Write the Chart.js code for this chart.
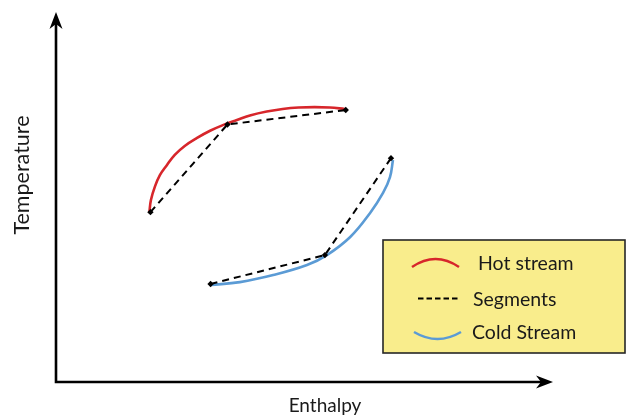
<!DOCTYPE html>
<html>
<head>
<meta charset="utf-8">
<script src="https://cdn.jsdelivr.net/npm/chart.js@4/dist/chart.umd.min.js"></script>
<style>
  html, body { margin: 0; padding: 0; background: #ffffff; }
  #wrap { width: 627px; height: 416px; }
</style>
</head>
<body>
<div id="wrap"><canvas id="c" width="627" height="416"></canvas></div>
<script>
// ---- data (arbitrary units) ----
const seriesLabels = ["Hot stream", "Segments", "Cold Stream"];
const axisTitles = { x: "Enthalpy", y: "Temperature" };

const hotEnthalpy    = [18.8, 19.1, 19.9, 20.9, 22.3, 23.9, 25.9, 28.3, 31.0, 33.7, 36.4, 39.2, 42.4, 45.6, 48.8, 52.0, 55.1, 58.1];
const hotTemperature = [46.0, 49.2, 52.8, 55.9, 58.6, 61.4, 63.8, 65.9, 67.9, 69.5, 70.8, 72.1, 73.1, 73.8, 74.2, 74.3, 74.2, 73.8];

const coldEnthalpy    = [31.1, 37.0, 43.7, 50.5, 54.5, 59.2, 63.2, 65.8, 67.2, 67.8];
const coldTemperature = [26.2, 27.0, 28.9, 31.6, 34.3, 39.2, 45.7, 51.1, 55.4, 60.0];

const hotSegEnthalpy    = [19.0, 34.5, 58.3];
const hotSegTemperature = [45.9, 69.6, 73.5];
const coldSegEnthalpy    = [31.1, 54.1, 67.4];
const coldSegTemperature = [26.5, 34.3, 60.5];

function pts(xs, ys) { return xs.map((x, i) => ({ x: x, y: ys[i] })); }

const RED = '#d7262b', BLUE = '#5b9bd5', FONT = 'Lato';

const decor = {
  id: 'decor',
  afterDraw(chart) {
    const ctx = chart.ctx, a = chart.chartArea;
    ctx.save();
    // axes with arrows
    ctx.strokeStyle = '#000'; ctx.fillStyle = '#000'; ctx.lineWidth = 2.6;
    ctx.beginPath();
    ctx.moveTo(a.left, a.top + 8); ctx.lineTo(a.left, a.bottom); ctx.lineTo(a.right - 8, a.bottom);
    ctx.stroke();
    ctx.beginPath();
    ctx.moveTo(a.left, a.top); ctx.lineTo(a.left - 6.5, a.top + 17); ctx.lineTo(a.left, a.top + 12); ctx.lineTo(a.left + 6.5, a.top + 17); ctx.closePath(); ctx.fill();
    ctx.beginPath();
    ctx.moveTo(a.right, a.bottom); ctx.lineTo(a.right - 17, a.bottom - 6.5); ctx.lineTo(a.right - 12, a.bottom); ctx.lineTo(a.right - 17, a.bottom + 6.5); ctx.closePath(); ctx.fill();

    // axis titles
    ctx.fillStyle = '#1a1a1a';
    ctx.textAlign = 'center'; ctx.textBaseline = 'middle';
    ctx.font = '19px ' + FONT;
    ctx.fillText(chart.options.scales.x.title.text, 325, 406);
    ctx.save();
    ctx.translate(22.5, 175); ctx.rotate(-Math.PI / 2);
    ctx.font = '21.5px ' + FONT;
    ctx.fillText(chart.options.scales.y.title.text, 0, 0);
    ctx.restore();

    // legend box
    ctx.fillStyle = '#f9ed8c';
    ctx.fillRect(383, 240, 242, 113);
    ctx.strokeStyle = '#262626'; ctx.lineWidth = 1.6;
    ctx.strokeRect(383, 240, 242, 113);
    // symbols
    ctx.lineWidth = 2.5; ctx.strokeStyle = RED;
    ctx.beginPath(); ctx.moveTo(412, 267); ctx.quadraticCurveTo(435.5, 251, 459, 267); ctx.stroke();
    ctx.strokeStyle = BLUE;
    ctx.beginPath(); ctx.moveTo(414, 332); ctx.quadraticCurveTo(437.5, 346, 461, 332); ctx.stroke();
    ctx.strokeStyle = '#000'; ctx.lineWidth = 2; ctx.setLineDash([5.5, 3]);
    ctx.beginPath(); ctx.moveTo(418, 298.5); ctx.lineTo(459, 298.5); ctx.stroke();
    ctx.setLineDash([]);
    // labels
    ctx.fillStyle = '#1a1a1a'; ctx.font = '19.5px ' + FONT; ctx.textAlign = 'left';
    ctx.fillText(seriesLabels[0], 478, 264);
    ctx.fillText(seriesLabels[1], 473, 300);
    ctx.fillText(seriesLabels[2], 472, 333);
    ctx.restore();
  }
};

new Chart(document.getElementById('c'), {
  type: 'line',
  data: {
    datasets: [
      { label: seriesLabels[1], data: pts(hotSegEnthalpy, hotSegTemperature), borderColor: '#000', borderWidth: 2,
        borderDash: [7, 5], pointStyle: 'rectRot', pointRadius: 3.2, pointBackgroundColor: '#000', pointBorderColor: '#000',
        pointBorderWidth: 0, tension: 0, order: 0 },
      { label: seriesLabels[1], data: pts(coldSegEnthalpy, coldSegTemperature), borderColor: '#000', borderWidth: 2,
        borderDash: [7, 5], pointStyle: 'rectRot', pointRadius: 3.2, pointBackgroundColor: '#000', pointBorderColor: '#000',
        pointBorderWidth: 0, tension: 0, order: 0 },
      { label: seriesLabels[0], data: pts(hotEnthalpy, hotTemperature), borderColor: RED, borderWidth: 2.6,
        pointRadius: 0, tension: 0.4, order: 1 },
      { label: seriesLabels[2], data: pts(coldEnthalpy, coldTemperature), borderColor: BLUE, borderWidth: 2.6,
        pointRadius: 0, tension: 0.4, order: 1 }
    ]
  },
  options: {
    responsive: false,
    animation: false,
    devicePixelRatio: 1,
    layout: { padding: { left: 56, right: 74, top: 12, bottom: 34 } },
    plugins: { legend: { display: false }, tooltip: { enabled: false } },
    scales: {
      x: { type: 'linear', min: 0, max: 100, display: false, title: { display: false, text: axisTitles.x } },
      y: { type: 'linear', min: 0, max: 100, display: false, title: { display: false, text: axisTitles.y } }
    }
  },
  plugins: [decor]
});
</script>
</body>
</html>
